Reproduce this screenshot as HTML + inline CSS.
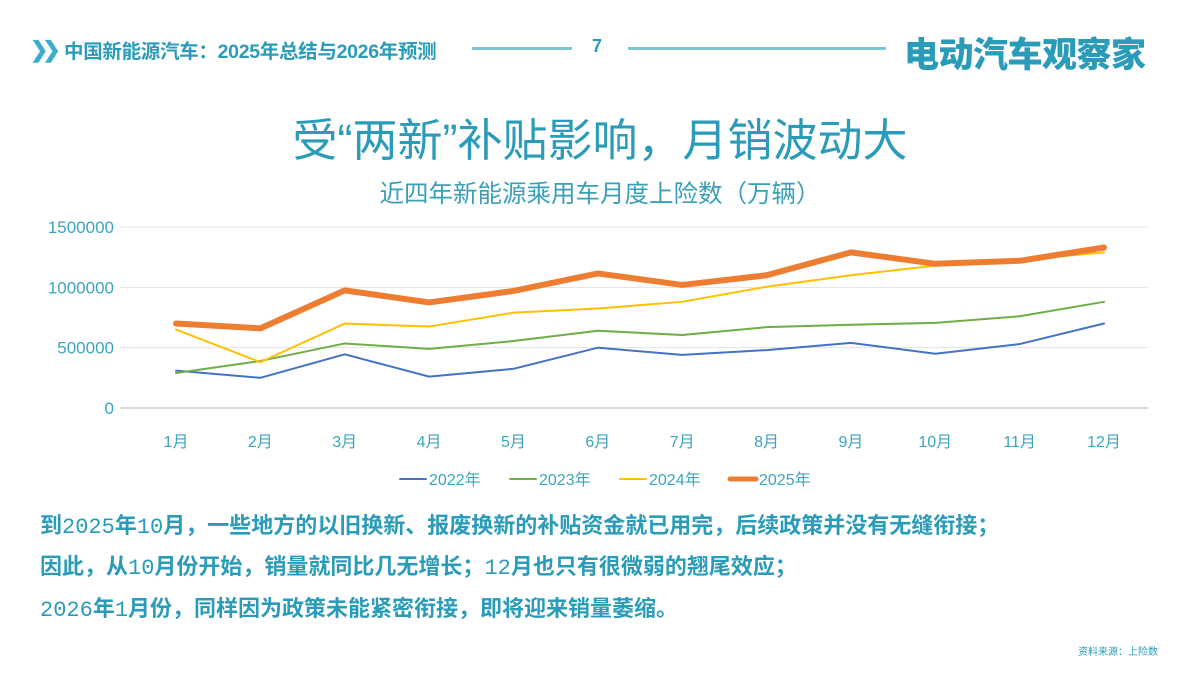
<!DOCTYPE html>
<html><head><meta charset="utf-8">
<style>
body{margin:0;width:1200px;height:675px;background:#fff;position:relative;overflow:hidden;font-family:"Liberation Sans","Noto Sans CJK SC",sans-serif;color:#2a9bb8}
.abs{position:absolute;white-space:nowrap}
.p{font-weight:bold;font-size:22px;left:40px}
.p .m{font-family:"Liberation Mono","Noto Sans CJK SC",monospace;font-weight:normal}
</style></head><body>
<div class="abs" style="left:30px;top:37px;font-size:22px;font-weight:bold;color:#3aaecb;letter-spacing:-6px">❯❯</div>
<div class="abs" style="left:64px;top:35px;font-size:19.5px;font-weight:bold;letter-spacing:-0.3px">中国新能源汽车：2025年总结与2026年预测</div>
<div class="abs" style="left:472px;top:47px;width:100px;height:3px;background:#7cc4d6"></div>
<div class="abs" style="left:592px;top:36px;font-size:18px;font-weight:bold">7</div>
<div class="abs" style="left:628px;top:47px;width:258px;height:3px;background:#7cc4d6"></div>
<div class="abs" style="left:904px;top:27px;font-size:35px;font-weight:900;color:#2a9bb8;letter-spacing:-0.5px">电动汽车观察家</div>
<div class="abs" style="left:0;width:1200px;text-align:center;top:104px;font-size:45px;color:#2a9bb8">受“两新”补贴影响，月销波动大</div>
<div class="abs" style="left:0;width:1200px;text-align:center;top:175px;font-size:24.5px;color:#3a9fb8">近四年新能源乘用车月度上险数（万辆）</div>
<svg class="abs" id="chart" width="1200" height="500" style="left:0;top:0"></svg>
<div class="abs p" style="top:508px">到<span class="m">2025</span>年<span class="m">10</span>月，一些地方的以旧换新、报废换新的补贴资金就已用完，后续政策并没有无缝衔接；</div>
<div class="abs p" style="top:549px">因此，从<span class="m">10</span>月份开始，销量就同比几无增长；<span class="m">12</span>月也只有很微弱的翘尾效应；</div>
<div class="abs p" style="top:591px"><span class="m">2026</span>年<span class="m">1</span>月份，同样因为政策未能紧密衔接，即将迎来销量萎缩。</div>
<div class="abs" style="left:1078px;top:643px;font-size:10px">资料来源：上险数</div>
<script>
const months=["1月","2月","3月","4月","5月","6月","7月","8月","9月","10月","11月","12月"];
const yTicks=[0,500000,1000000,1500000];
const seriesNames=["2022年","2023年","2024年","2025年"];
const s2022=[310000,250000,445000,260000,325000,500000,440000,480000,540000,450000,530000,700000];
const s2023=[290000,390000,535000,490000,555000,640000,605000,670000,690000,705000,760000,880000];
const s2024=[650000,380000,700000,675000,790000,825000,880000,1005000,1100000,1180000,1225000,1290000];
const s2025=[700000,660000,975000,875000,970000,1115000,1020000,1100000,1290000,1195000,1220000,1330000];
const colors=["#4472c4","#70ad47","#ffc000","#ed7d31"];
const widths=[2,2,2,6];
const NS="http://www.w3.org/2000/svg";
const svg=document.getElementById('chart');
const x0=176,x1=1104,yBase=408,yTop=227,yMax=1500000;
const xS=i=>x0+(x1-x0)*i/(months.length-1);
const yS=v=>yBase-(yBase-yTop)*v/yMax;
function mk(t,a){const e=document.createElementNS(NS,t);for(const k in a)e.setAttribute(k,a[k]);svg.appendChild(e);return e;}
yTicks.forEach(v=>{
  const g=mk('line',{x1:120,x2:1148,y1:yS(v),y2:yS(v),stroke:v===0?'#d9d9d9':'#e3e3e3','stroke-width':v===0?2:1});
  
  
  const t=mk('text',{x:114,y:yS(v)+6,'text-anchor':'end','font-size':17,fill:'#3aa5c0'});
  t.textContent=v;
  
  
});
months.forEach((m,i)=>{
  const t=mk('text',{x:xS(i),y:447,'text-anchor':'middle','font-size':16,fill:'#3aa5c0'});
  t.textContent=m;
  
  
});
[s2022,s2023,s2024,s2025].forEach((s,k)=>{
  const p=mk('polyline',{points:s.map((v,i)=>xS(i)+','+yS(v)).join(' '),fill:'none',stroke:colors[k],'stroke-width':widths[k],'stroke-linejoin':'round','stroke-linecap':'round'});
  
  
});
const lx=[400,510,620,730];
seriesNames.forEach((n,k)=>{
  const l=mk('line',{x1:lx[k],x2:lx[k]+26,y1:479,y2:479,stroke:colors[k],'stroke-width':widths[k]===6?5:2,'stroke-linecap':'round'});
  
  
  const t=mk('text',{x:lx[k]+29,y:485,'font-size':16,fill:'#3aa5c0'});
  t.textContent=n;
  
  
});
</script>
</body></html>
